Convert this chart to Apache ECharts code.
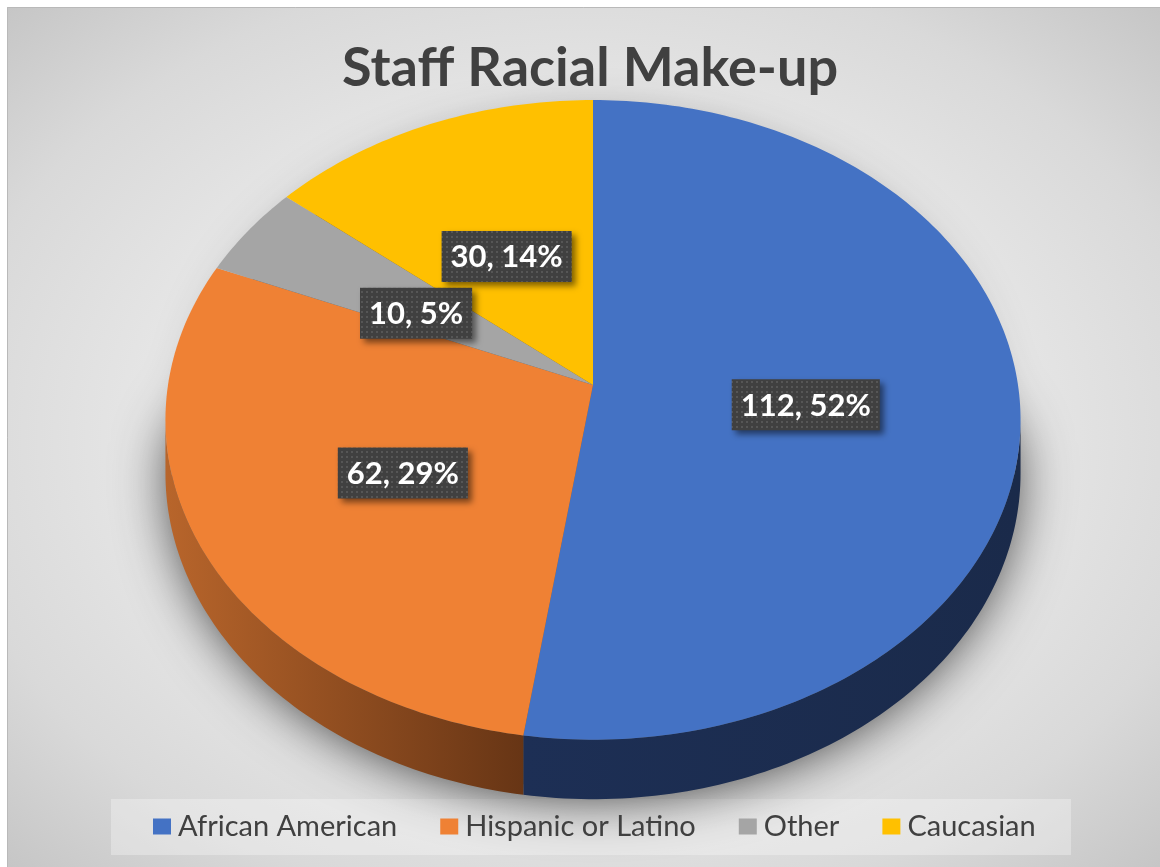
<!DOCTYPE html>
<html>
<head>
<meta charset="utf-8">
<script src="https://cdn.jsdelivr.net/npm/echarts@6/dist/echarts.min.js"></script>
<style>
  html, body { margin: 0; padding: 0; background: #ffffff; }
  #chart { width: 1160px; height: 867px; }
</style>
</head>
<body>
<div id="chart"></div>
<script>
// ---- data ----
const categories = ['African American', 'Hispanic or Latino', 'Other', 'Caucasian'];
const staffCounts = [112, 62, 10, 30];
const chartTitle = 'Staff Racial Make-up';

// ---- styling ----
const sliceColors = ['#4472c4', '#ef8134', '#a5a5a5', '#ffc000'];
const wallShades = [
  ['#1d2f55', '#1a2a4a'],
  ['#b8652b', '#673515'],
  ['#707070', '#545454'],
  ['#a57c00', '#7f6000']
];

// 3D pie geometry: elliptical disc with mild perspective (near side larger)
const PIE = { cx: 593, cy: 385, a: 425, b: 316, p: 0.109, depth: 53, labelR: 0.5 };
const total = staffCounts.reduce((s, v) => s + v, 0);
const startAngles = [];
(function () {
  let acc = 0;
  staffCounts.forEach(v => { startAngles.push(acc / total * Math.PI * 2); acc += v; });
})();
// front wall is visible between the two silhouette extremes
const tMin = Math.acos(-PIE.p);
const tMax = Math.PI * 2 - tMin;

function project(theta, f, drop) {
  const X = f * Math.sin(theta), Z = f * Math.cos(theta);
  const w = 1 + PIE.p * Z;
  return [PIE.cx + PIE.a * X / w, PIE.cy + (-PIE.b * Z + (drop || 0)) / w];
}
function arc(t0, t1, f, drop) {
  const n = Math.max(2, Math.ceil((t1 - t0) / (Math.PI / 180)));
  const pts = [];
  for (let k = 0; k <= n; k++) pts.push(project(t0 + (t1 - t0) * k / n, f, drop));
  return pts;
}

// dotted tile for the data-label boxes
const dotTile = document.createElement('canvas');
dotTile.width = dotTile.height = 5;
(function () {
  const g = dotTile.getContext('2d');
  g.fillStyle = '#404040'; g.fillRect(0, 0, 5, 5);
  g.fillStyle = '#565656'; g.fillRect(1, 1, 2, 2);
})();
const labelFont = 'bold 31px Lato';
const measureCtx = document.createElement('canvas').getContext('2d');
function textWidth(str) { measureCtx.font = labelFont; return measureCtx.measureText(str).width; }

function makeRenderer(i) {
  return function (params, api) {
    const v = api.value(0);
    const t0 = startAngles[i];
    const t1 = t0 + v / total * Math.PI * 2;
    const children = [];

    if (i === 0) {
      // soft ground shadow: the caster sits under the disc, only its blur shows
      const caster = arc(tMin - 0.1, tMax + 0.1, 0.985, PIE.depth - 4)
        .concat(arc(tMax + 0.1, tMin - 0.1 + Math.PI * 2, 0.9, 0));
      children.push({
        type: 'polygon', z2: 0, silent: true,
        shape: { points: caster },
        style: {
          fill: '#5a5a5a', shadowBlur: 55, shadowColor: 'rgba(0,0,0,0.8)',
          shadowOffsetY: 8
        }
      });
    }

    const w0 = Math.max(t0, tMin), w1 = Math.min(t1, tMax);
    if (w1 > w0) {
      const topEdge = arc(w0, w1, 1, 0);
      const bottomEdge = arc(w0, w1, 1, PIE.depth).reverse();
      children.push({
        type: 'polygon', z2: 2,
        shape: { points: topEdge.concat(bottomEdge) },
        style: {
          fill: new echarts.graphic.LinearGradient(0, 0, 1, 0, [
            { offset: 0, color: wallShades[i][0] },
            { offset: 1, color: wallShades[i][1] }
          ])
        }
      });
    }

    children.push({
      type: 'polygon', z2: 10,
      shape: { points: [[PIE.cx, PIE.cy]].concat(arc(t0, t1, 1, 0)) },
      style: { fill: api.visual('color') }
    });

    const mid = (t0 + t1) / 2;
    const pos = project(mid, PIE.labelR, 8);
    const text = v + ', ' + Math.round(v / total * 100) + '%';
    const bw = textWidth(text) + 18, bh = 51;
    children.push({
      type: 'rect', z2: 20,
      shape: { x: pos[0] - bw / 2, y: pos[1] - bh / 2, width: bw, height: bh },
      style: {
        fill: { image: dotTile, repeat: 'repeat' },
        shadowBlur: 6, shadowOffsetX: 4, shadowOffsetY: 4, shadowColor: 'rgba(0,0,0,0.5)'
      }
    });
    children.push({
      type: 'text', z2: 21, x: pos[0], y: pos[1] + 1,
      style: { text: text, fill: '#ffffff', font: labelFont, align: 'center', verticalAlign: 'middle' }
    });

    return { type: 'group', children: children };
  };
}

const chart = echarts.init(document.getElementById('chart'), null, { renderer: 'canvas' });

const bgScale = 1.35;
const option = {
  animation: false,
  color: sliceColors,
  graphic: [
    {
      type: 'rect', z: 0, silent: true, x: 7, y: 7, scaleX: bgScale,
      shape: { x: 0, y: 0, width: (1160 - 7) / bgScale, height: 860 },
      style: {
        fill: new echarts.graphic.RadialGradient(0.5, 0.5, 0.74, [
          { offset: 0, color: '#efefef' },
          { offset: 0.45, color: '#e9e9e9' },
          { offset: 0.75, color: '#d9d9d9' },
          { offset: 1, color: '#c2c2c2' }
        ])
      }
    },
    {
      type: 'polyline', z: 1, silent: true,
      shape: { points: [[7.5, 867], [7.5, 7.5], [1160, 7.5]] },
      style: { stroke: '#b9b9b9', lineWidth: 1, fill: null }
    },
    {
      type: 'rect', z: 1, silent: true,
      shape: { x: 111, y: 799, width: 960, height: 56 },
      style: { fill: 'rgba(255,255,255,0.3)' }
    },
    {
      type: 'text', z: 5, x: 590, y: 69,
      style: {
        text: chartTitle, fill: '#404040', font: 'bold 54px Lato',
        align: 'center', verticalAlign: 'middle'
      }
    }
  ],
  legend: {
    data: categories,
    left: 153,
    top: 812,
    padding: 0,
    itemWidth: 18,
    itemHeight: 16,
    itemGap: 43,
    icon: 'rect',
    textStyle: { fontFamily: 'Lato', fontSize: 29, color: '#404040', padding: [0, 0, 0, 2] }
  },
  series: categories.map((name, i) => ({
    type: 'custom',
    name: name,
    coordinateSystem: 'none',
    itemStyle: { color: sliceColors[i] },
    renderItem: makeRenderer(i),
    data: [[staffCounts[i]]]
  }))
};
chart.setOption(option);
</script>
</body>
</html>
